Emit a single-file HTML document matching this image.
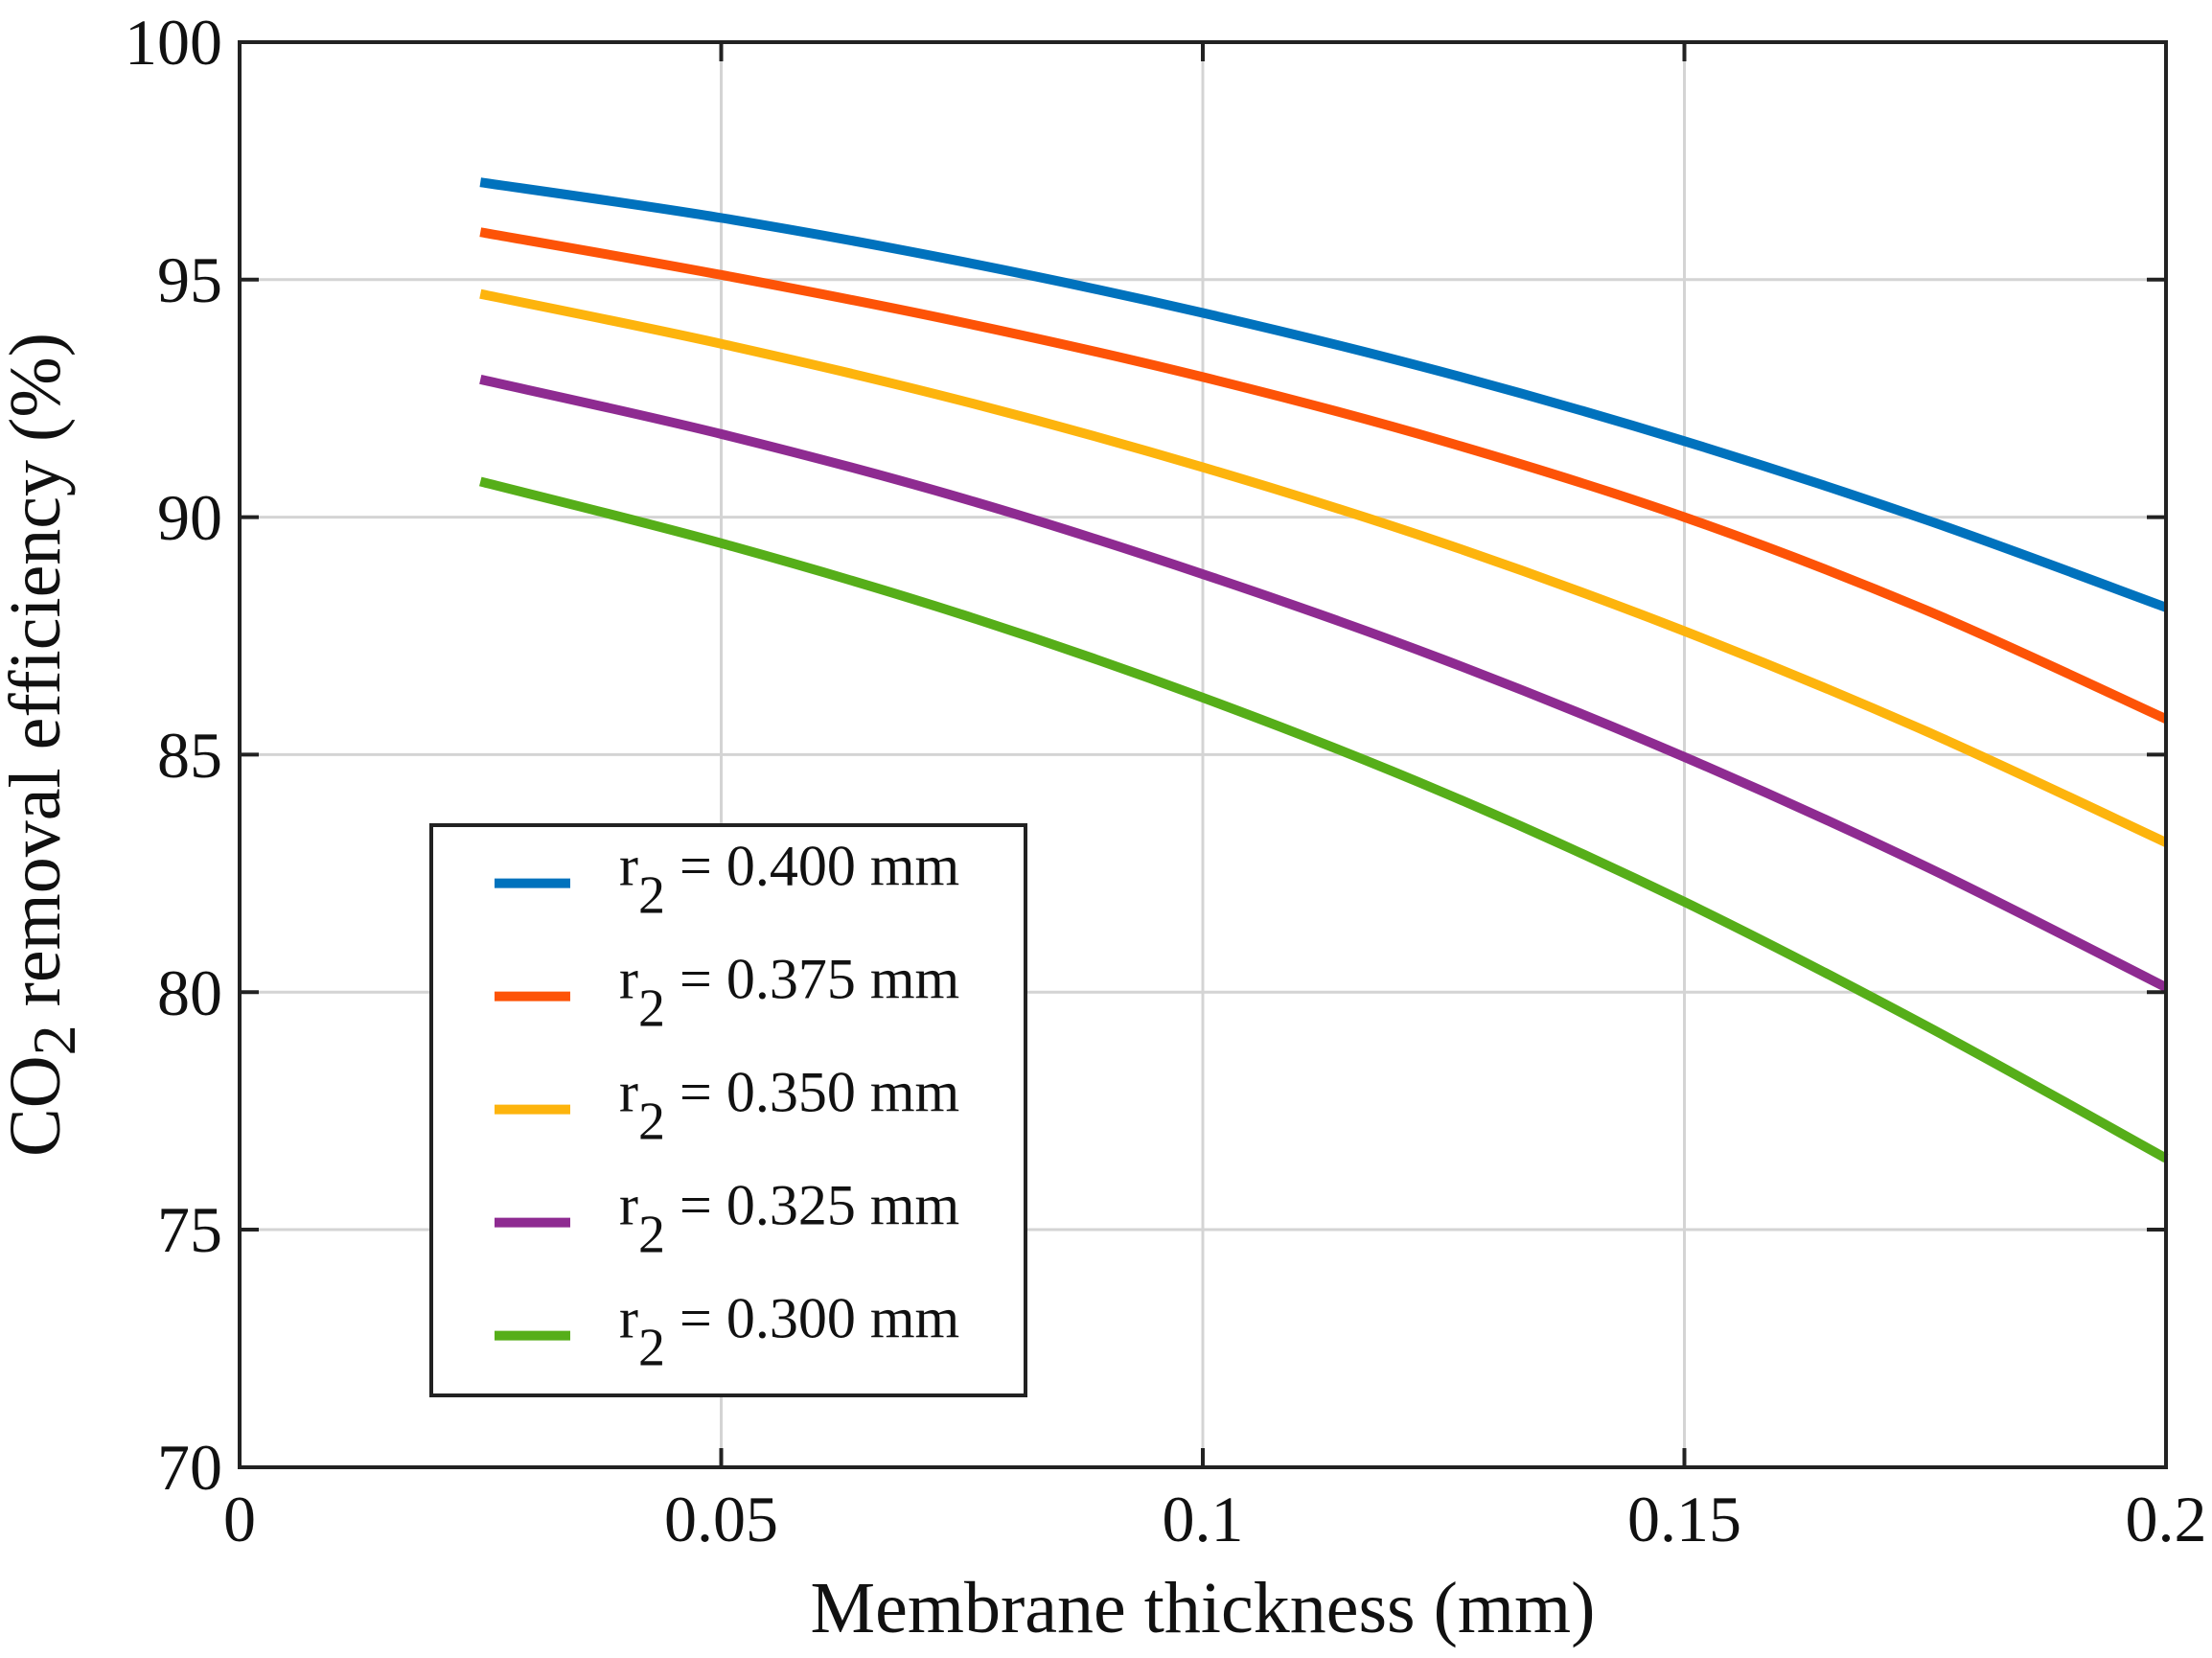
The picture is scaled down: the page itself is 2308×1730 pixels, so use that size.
<!DOCTYPE html>
<html><head><meta charset="utf-8"><style>
html,body{margin:0;padding:0;background:#fff}
svg{display:block}
text{font-family:"Liberation Serif",serif;fill:#111}
</style></head><body>
<svg id="s" width="2308" height="1730" viewBox="0 0 2308 1730" xmlns="http://www.w3.org/2000/svg">
<rect width="2308" height="1730" fill="#fff"/>
<g stroke="#d4d4d4" stroke-width="3">
<line x1="752.5" y1="44" x2="752.5" y2="1531"/>
<line x1="1255" y1="44" x2="1255" y2="1531"/>
<line x1="1757.5" y1="44" x2="1757.5" y2="1531"/>
<line x1="250" y1="291.8" x2="2260" y2="291.8"/>
<line x1="250" y1="539.6" x2="2260" y2="539.6"/>
<line x1="250" y1="787.4" x2="2260" y2="787.4"/>
<line x1="250" y1="1035.2" x2="2260" y2="1035.2"/>
<line x1="250" y1="1283" x2="2260" y2="1283"/>
</g>
<g id="series" fill="none" stroke-width="10" stroke-linejoin="round"></g>
<g stroke="#222" stroke-width="4">
<line x1="752.5" y1="44" x2="752.5" y2="64"/><line x1="1255" y1="44" x2="1255" y2="64"/><line x1="1757.5" y1="44" x2="1757.5" y2="64"/>
<line x1="752.5" y1="1531" x2="752.5" y2="1511"/><line x1="1255" y1="1531" x2="1255" y2="1511"/><line x1="1757.5" y1="1531" x2="1757.5" y2="1511"/>
<line x1="250" y1="291.8" x2="270" y2="291.8"/><line x1="250" y1="539.6" x2="270" y2="539.6"/><line x1="250" y1="787.4" x2="270" y2="787.4"/><line x1="250" y1="1035.2" x2="270" y2="1035.2"/><line x1="250" y1="1283" x2="270" y2="1283"/>
<line x1="2260" y1="291.8" x2="2240" y2="291.8"/><line x1="2260" y1="539.6" x2="2240" y2="539.6"/><line x1="2260" y1="787.4" x2="2240" y2="787.4"/><line x1="2260" y1="1035.2" x2="2240" y2="1035.2"/><line x1="2260" y1="1283" x2="2240" y2="1283"/>
<rect x="250" y="44" width="2010" height="1487" fill="none"/>
</g>
<g font-size="68" text-anchor="end">
<text x="232" y="67">100</text><text x="232" y="315">95</text><text x="232" y="563">90</text><text x="232" y="811">85</text><text x="232" y="1059">80</text><text x="232" y="1306">75</text><text x="232" y="1554">70</text>
</g>
<g font-size="68" text-anchor="middle">
<text x="250" y="1608">0</text><text x="752.5" y="1608">0.05</text><text x="1255" y="1608">0.1</text><text x="1757.5" y="1608">0.15</text><text x="2260" y="1608">0.2</text>
</g>
<text x="1255" y="1703" font-size="76" text-anchor="middle">Membrane thickness (mm)</text>
<text transform="translate(62,777) rotate(-90)" font-size="76" text-anchor="middle">CO<tspan font-size="64" dy="16">2</tspan><tspan dy="-16"> removal efficiency (%)</tspan></text>
<rect x="450" y="861" width="620" height="595" fill="#fff" stroke="#222" stroke-width="4"/>
<g id="leg"></g>
</svg>
<script>
var xs=[0.025,0.05,0.075,0.1,0.125,0.15,0.175,0.2];
var S=[
["#0072bd",[97.05,96.3,95.38,94.3,93.05,91.6,89.95,88.1],"0.400"],
["#fd5307",[96.0,95.1,94.1,92.95,91.6,90.0,88.05,85.75],"0.375"],
["#fdb40d",[94.7,93.65,92.45,91.05,89.45,87.6,85.5,83.15],"0.350"],
["#8e2b91",[92.9,91.75,90.4,88.8,87.0,84.95,82.65,80.1],"0.325"],
["#56ae19",[90.75,89.45,87.95,86.2,84.2,81.9,79.3,76.5],"0.300"]];
function X(v){return 250+v*10050;}
function Y(v){return 44+(100-v)*49.56;}
var ns="http://www.w3.org/2000/svg",g=document.getElementById("series"),L=document.getElementById("leg");
S.forEach(function(s,i){
 var p=xs.map(function(x,j){return [X(x),Y(s[1][j])];});
 var d="M"+p[0][0]+","+p[0][1];
 for(var k=0;k<p.length-1;k++){
  var p0=p[Math.max(k-1,0)],p1=p[k],p2=p[k+1],p3=p[Math.min(k+2,p.length-1)];
  var c1=[p1[0]+(p2[0]-p0[0])/6,p1[1]+(p2[1]-p0[1])/6],c2=[p2[0]-(p3[0]-p1[0])/6,p2[1]-(p3[1]-p1[1])/6];
  d+=" C"+c1+" "+c2+" "+p2;
 }
 var e=document.createElementNS(ns,"path");e.setAttribute("d",d);e.setAttribute("stroke",s[0]);g.appendChild(e);
 var y=921.6+i*118;
 var l=document.createElementNS(ns,"line");l.setAttribute("x1",516);l.setAttribute("x2",595);l.setAttribute("y1",y);l.setAttribute("y2",y);l.setAttribute("stroke",s[0]);l.setAttribute("stroke-width",10);L.appendChild(l);
 var t=document.createElementNS(ns,"text");t.setAttribute("x",646);t.setAttribute("y",y+2);t.setAttribute("font-size","60");
 t.innerHTML='r<tspan dy="29" font-size="56">2</tspan><tspan dy="-29"> = '+s[2]+' mm</tspan>';
 L.appendChild(t);
});
</script>
</body></html>
